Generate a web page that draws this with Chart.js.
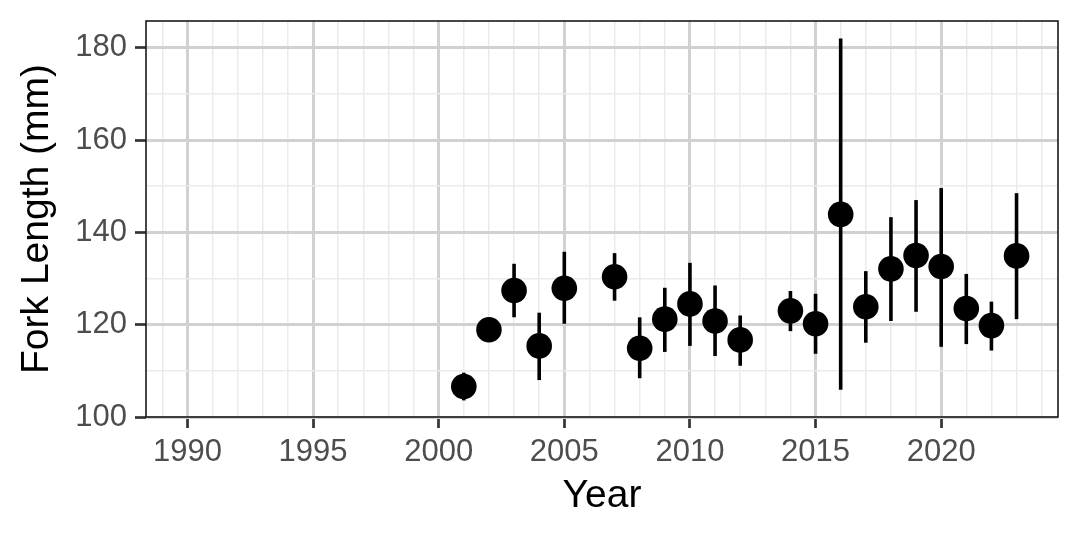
<!DOCTYPE html>
<html>
<head>
<meta charset="utf-8">
<script src="https://cdn.jsdelivr.net/npm/chart.js@4"></script>
<style>
    html, body { margin: 0; padding: 0; background: #ffffff; }
    #wrap { width: 1080px; height: 540px; }
</style>
</head>
<body>
<div id="wrap"><canvas id="chart" width="1080" height="540"></canvas></div>
<script>
// data
const years = [2001, 2002, 2003, 2004, 2005, 2007, 2008, 2009, 2010, 2011, 2012,
               2014, 2015, 2016, 2017, 2018, 2019, 2020, 2021, 2022, 2023];
const meanLength = [106.6, 118.9, 127.4, 115.4, 127.9, 130.4, 114.9, 121.2, 124.5, 120.8, 116.7,
                    123.0, 120.2, 143.9, 123.9, 132.1, 135.0, 132.6, 123.5, 119.8, 134.9];
const lowerLength = [103.6, 117.5, 121.6, 108.0, 120.2, 125.2, 108.4, 114.1, 115.4, 113.2, 111.1,
                     118.6, 113.7, 105.9, 116.1, 120.8, 122.8, 115.2, 115.8, 114.4, 121.2];
const upperLength = [109.6, 120.3, 133.2, 122.6, 135.8, 135.5, 121.6, 128.0, 133.4, 128.5, 122.0,
                     127.3, 126.7, 182.0, 131.6, 143.3, 147.0, 149.6, 131.0, 125.0, 148.5];

// axis ticks (every year / every 10 mm gets a grid line, labels on majors only)
const xGridTicks = [1989, 1990, 1991, 1992, 1993, 1994, 1995, 1996, 1997, 1998, 1999, 2000,
                    2001, 2002, 2003, 2004, 2005, 2006, 2007, 2008, 2009, 2010, 2011, 2012,
                    2013, 2014, 2015, 2016, 2017, 2018, 2019, 2020, 2021, 2022, 2023, 2024];
const xLabelTicks = [1990, 1995, 2000, 2005, 2010, 2015, 2020];
const yGridTicks = [100, 110, 120, 130, 140, 150, 160, 170, 180];
const yLabelTicks = [100, 120, 140, 160, 180];

const FONT = "'Liberation Sans', Arial, sans-serif";

document.addEventListener('DOMContentLoaded', function() {
    const points = years.map((y, i) => ({ x: y, y: meanLength[i] }));

    // vertical ranges behind the points
    const errorBars = {
        id: 'errorBars',
        beforeDatasetsDraw(chart) {
            const ctx = chart.ctx;
            const xs = chart.scales.x, ys = chart.scales.y;
            ctx.save();
            ctx.strokeStyle = '#000000';
            ctx.lineWidth = 3.6;
            ctx.lineCap = 'butt';
            years.forEach((yr, i) => {
                const px = xs.getPixelForValue(yr);
                ctx.beginPath();
                ctx.moveTo(px, ys.getPixelForValue(lowerLength[i]));
                ctx.lineTo(px, ys.getPixelForValue(upperLength[i]));
                ctx.stroke();
            });
            ctx.restore();
        }
    };

    // full panel border like theme_bw
    const panelBorder = {
        id: 'panelBorder',
        afterDraw(chart) {
            const a = chart.chartArea;
            const ctx = chart.ctx;
            ctx.save();
            ctx.strokeStyle = '#1a1a1a';
            ctx.lineWidth = 1.6;
            ctx.strokeRect(a.left, a.top, a.right - a.left, a.bottom - a.top);
            ctx.restore();
        }
    };

    // fixed axis boxes, no extra room for edge labels
    function fixBox(scale, size) {
        if (scale.isHorizontal()) scale.height = size;
        else scale.width = size;
        scale.paddingTop = 0;
        scale.paddingBottom = 0;
        scale.paddingLeft = 0;
        scale.paddingRight = 0;
    }

    const isMajorX = v => xLabelTicks.includes(v);
    const isMajorY = v => yLabelTicks.includes(v);

    new Chart(document.getElementById('chart'), {
        type: 'scatter',
        data: {
            datasets: [{
                data: points,
                backgroundColor: '#000000',
                borderColor: '#000000',
                pointRadius: 12.8,
                pointHoverRadius: 12.8,
                borderWidth: 0
            }]
        },
        options: {
            responsive: false,
            animation: false,
            events: [],
            layout: { padding: { top: 21, right: 22, left: 0, bottom: 0 } },
            plugins: { legend: { display: false }, tooltip: { enabled: false } },
            scales: {
                x: {
                    type: 'linear',
                    min: 1988.35,
                    max: 2024.65,
                    afterBuildTicks: scale => { scale.ticks = xGridTicks.map(v => ({ value: v })); },
                    afterFit: scale => fixBox(scale, 123),
                    border: { display: false },
                    grid: {
                        color: c => isMajorX(c.tick.value) ? '#d1d1d1' : '#ebebeb',
                        lineWidth: c => isMajorX(c.tick.value) ? 3 : 1.5,
                        tickColor: c => isMajorX(c.tick.value) ? '#333333' : 'rgba(0,0,0,0)',
                        tickWidth: 2.7,
                        tickLength: 11,
                        drawTicks: true
                    },
                    ticks: {
                        autoSkip: false,
                        maxRotation: 0,
                        padding: 6,
                        color: '#4d4d4d',
                        font: { family: FONT, size: 31 },
                        callback: v => isMajorX(v) ? String(v) : ''
                    },
                    title: {
                        display: true,
                        text: 'Year',
                        color: '#000000',
                        font: { family: FONT, size: 39 },
                        padding: { top: 0, bottom: 20 }
                    }
                },
                y: {
                    type: 'linear',
                    min: 100,
                    max: 185.8,
                    afterBuildTicks: scale => { scale.ticks = yGridTicks.map(v => ({ value: v })); },
                    afterFit: scale => fixBox(scale, 146),
                    border: { display: false },
                    grid: {
                        color: c => isMajorY(c.tick.value) ? '#d1d1d1' : '#ebebeb',
                        lineWidth: c => isMajorY(c.tick.value) ? 3 : 1.5,
                        tickColor: c => isMajorY(c.tick.value) ? '#333333' : 'rgba(0,0,0,0)',
                        tickWidth: 2.7,
                        tickLength: 11,
                        drawTicks: true
                    },
                    ticks: {
                        autoSkip: false,
                        padding: 8,
                        color: '#4d4d4d',
                        font: { family: FONT, size: 31 },
                        callback: v => isMajorY(v) ? String(v) : ''
                    },
                    title: {
                        display: true,
                        text: 'Fork Length (mm)',
                        color: '#000000',
                        font: { family: FONT, size: 39 },
                        padding: { top: 14, bottom: 0 }
                    }
                }
            }
        },
        plugins: [errorBars, panelBorder]
    });
});
</script>
</body>
</html>
